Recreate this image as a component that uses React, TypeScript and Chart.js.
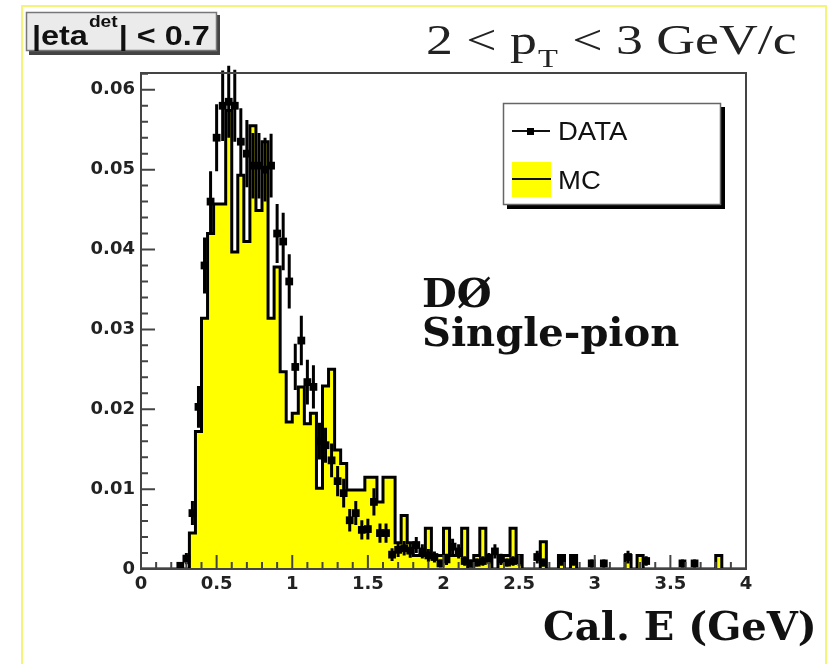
import { useEffect, useRef } from "react";
import { Chart, registerables } from "chart.js";

Chart.register(...registerables);

// ---- data (bin width 0.04 GeV, 100 bins from 0 to 4) ----
const BIN_WIDTH = 0.04;
const X_MIN = 0;
const X_MAX = 4;
const Y_MAX = 0.0621;

const xTickValues = [0, 0.5, 1, 1.5, 2, 2.5, 3, 3.5, 4];
const yTickValues = [0, 0.01, 0.02, 0.03, 0.04, 0.05, 0.06];
const X_MINOR_STEP = 0.1;
const Y_MINOR_STEP = 0.002;

const mcValues = [
  0, 0, 0, 0, 0, 0, 0, 0, 0.0045, 0.0172,
  0.0314, 0.042, 0.0457, 0.0457, 0.0574, 0.0397, 0.0493, 0.041, 0.0555, 0.0449,
  0.0535, 0.0314, 0.0378, 0.0247, 0.0184, 0.0195, 0.0228, 0.0182, 0.0195, 0.0101,
  0.0229, 0.025, 0.0149, 0.0132, 0.0099, 0.0099, 0.0099, 0.0115, 0.0115, 0.0084,
  0.0115, 0.0115, 0.0033, 0.0067, 0.0033, 0.0017, 0.0017, 0.0051, 0.0017, 0.0017,
  0.0051, 0.0017, 0.0017, 0.0051, 0, 0.0017, 0.0051, 0.0017, 0, 0.0017,
  0.0017, 0.0051, 0.0017, 0, 0, 0, 0.0034, 0, 0, 0.0017,
  0, 0.0017, 0, 0, 0, 0, 0, 0, 0, 0,
  0.0017, 0, 0.0017, 0, 0, 0, 0, 0, 0, 0,
  0, 0, 0, 0, 0, 0.0017, 0, 0, 0, 0,
];

const dataValues = [
  0, 0, 0, 0, 0, 0, 0.0004, 0.0013, 0.007, 0.0203,
  0.038, 0.046, 0.054, 0.058, 0.0585, 0.058, 0.0535, 0.052, 0.0505, 0.0505,
  0.05, 0.0505, 0.042, 0.041, 0.036, 0.0253, 0.0286, 0.0234, 0.0228, 0.016,
  0.0155, 0.0136, 0.011, 0.0095, 0.0061, 0.007, 0.0049, 0.005, 0.0084, 0.0045,
  0.0045, 0.0018, 0.0024, 0.0026, 0.0023, 0.003, 0.0022, 0.0017, 0.0015, 0.0007,
  0.0012, 0.0028, 0.0022, 0.001, 0.0007, 0.0008, 0.001, 0.0013, 0.0022, 0.0012,
  0.0008, 0.001, 0.0011, 0, 0, 0.0015, 0.0008, 0, 0, 0.0011,
  0, 0.001, 0, 0, 0.0007, 0, 0.0007, 0, 0, 0,
  0.0015, 0, 0, 0.001, 0, 0, 0, 0, 0, 0.0007,
  0, 0.0007, 0, 0, 0, 0, 0, 0, 0, 0,
];

const dataErrors = [
  0, 0, 0, 0, 0, 0, 0.0004, 0.0007, 0.0015, 0.0026,
  0.0035, 0.0038, 0.0042, 0.0044, 0.0045, 0.0045, 0.0042, 0.0042, 0.0041, 0.0041,
  0.004, 0.004, 0.0037, 0.0036, 0.0034, 0.0029, 0.0031, 0.0028, 0.0027, 0.0023,
  0.0022, 0.0021, 0.0019, 0.0018, 0.0014, 0.0015, 0.0012, 0.0013, 0.0017, 0.0012,
  0.0012, 0.0008, 0.0009, 0.0009, 0.0009, 0.001, 0.0009, 0.0008, 0.0007, 0.0005,
  0.0007, 0.001, 0.0009, 0.0006, 0.0005, 0.0005, 0.0006, 0.0007, 0.0009, 0.0007,
  0.0005, 0.0006, 0.0007, 0, 0, 0.0008, 0.0005, 0, 0, 0.0007,
  0, 0.0006, 0, 0, 0.0005, 0, 0.0005, 0, 0, 0,
  0.0008, 0, 0, 0.0006, 0, 0, 0, 0, 0, 0.0005,
  0, 0.0005, 0, 0, 0, 0, 0, 0, 0, 0,
];

const W = 831;
const H = 664;

function stretchText(
  ctx: CanvasRenderingContext2D,
  text: string,
  x: number,
  y: number,
  font: string,
  sx: number,
  color: string
): number {
  ctx.save();
  ctx.font = font;
  ctx.fillStyle = color;
  ctx.textAlign = "left";
  ctx.textBaseline = "alphabetic";
  ctx.translate(x, y);
  ctx.scale(sx, 1);
  ctx.fillText(text, 0, 0);
  const w = ctx.measureText(text).width * sx;
  ctx.restore();
  return w;
}

export default function App() {
  const ref = useRef<HTMLCanvasElement | null>(null);

  useEffect(() => {
    const canvas = ref.current;
    if (!canvas) return;

    const mcPoints = mcValues.map((v, i) => ({ x: X_MIN + i * BIN_WIDTH, y: v }));
    mcPoints.push({ x: X_MAX, y: 0 });

    const dataPoints = dataValues
      .map((v, i) => ({ x: X_MIN + (i + 0.5) * BIN_WIDTH, y: v, e: dataErrors[i] }))
      .filter((p) => p.y > 0);

    const rootPlugin = {
      id: "rootStyle",
      afterDatasetsDraw(chart: any) {
        const ctx: CanvasRenderingContext2D = chart.ctx;
        const xs = chart.scales.x;
        const ys = chart.scales.y;
        ctx.save();
        ctx.strokeStyle = "#000";
        ctx.lineWidth = 3;
        for (const p of dataPoints) {
          const cx = xs.getPixelForValue(p.x);
          const cy = ys.getPixelForValue(p.y);
          const x0 = xs.getPixelForValue(p.x - BIN_WIDTH / 2);
          const x1 = xs.getPixelForValue(p.x + BIN_WIDTH / 2);
          const yLo = ys.getPixelForValue(Math.max(0, p.y - p.e));
          const yHi = ys.getPixelForValue(p.y + p.e);
          ctx.beginPath();
          ctx.moveTo(cx, yLo);
          ctx.lineTo(cx, yHi);
          ctx.moveTo(x0, cy);
          ctx.lineTo(x1, cy);
          ctx.stroke();
        }
        ctx.restore();
      },
      afterDraw(chart: any) {
        const ctx: CanvasRenderingContext2D = chart.ctx;
        const xs = chart.scales.x;
        const ys = chart.scales.y;
        const { left, right, top, bottom } = chart.chartArea;
        ctx.save();

        // pad border (light yellow)
        ctx.strokeStyle = "#f4f47a";
        ctx.lineWidth = 2;
        ctx.strokeRect(22, 6, 804, 700);

        // frame
        ctx.strokeStyle = "#444";
        ctx.lineWidth = 2;
        ctx.strokeRect(left, top, right - left, bottom - top);

        // x ticks (inside)
        ctx.beginPath();
        const nx = Math.round((X_MAX - X_MIN) / X_MINOR_STEP);
        for (let k = 0; k <= nx; k++) {
          const v = X_MIN + k * X_MINOR_STEP;
          const isMajor = xTickValues.some((t) => Math.abs(t - v) < 1e-6);
          const px = xs.getPixelForValue(v);
          ctx.moveTo(px, bottom);
          ctx.lineTo(px, bottom - (isMajor ? 14 : 7));
        }
        // y ticks (inside)
        const ny = Math.floor(Y_MAX / Y_MINOR_STEP + 1e-6);
        for (let k = 0; k <= ny; k++) {
          const v = k * Y_MINOR_STEP;
          const isMajor = yTickValues.some((t) => Math.abs(t - v) < 1e-7);
          const py = ys.getPixelForValue(v);
          ctx.moveTo(left, py);
          ctx.lineTo(left + (isMajor ? 14 : 7), py);
        }
        ctx.stroke();

        // top-left label box
        ctx.fillStyle = "#444";
        ctx.fillRect(29, 15, 191, 40);
        ctx.fillStyle = "#ebebeb";
        ctx.fillRect(26, 12, 191, 39);
        ctx.strokeStyle = "#777";
        ctx.lineWidth = 1.5;
        ctx.strokeRect(26.5, 12.5, 190, 38);
        let lx = 32;
        lx += stretchText(ctx, "|eta", lx, 45, "bold 27px 'Liberation Sans'", 1.2, "#111");
        lx += 1 + stretchText(ctx, "det", lx + 1, 27, "bold 16px 'Liberation Sans'", 1.2, "#111");
        stretchText(ctx, "| < 0.7", lx + 1, 45, "bold 27px 'Liberation Sans'", 1.2, "#111");

        // title
        let tx = 426;
        const tFont = "43px 'Liberation Serif'";
        tx += stretchText(ctx, "2 < p", tx, 54, tFont, 1.25, "#222");
        tx += 1 + stretchText(ctx, "T", tx + 1, 67, "26px 'Liberation Serif'", 1.25, "#222");
        stretchText(ctx, " < 3 GeV/c", tx + 1, 54, tFont, 1.25, "#222");

        // annotations
        stretchText(ctx, "DØ", 422, 307, "bold 40px 'DejaVu Serif'", 1.0, "#111");
        stretchText(ctx, "Single-pion", 422, 346, "bold 40px 'DejaVu Serif'", 1.0, "#111");
        stretchText(ctx, "Cal. E (GeV)", 543, 640, "bold 40px 'DejaVu Serif'", 1.0, "#111");

        // legend
        ctx.fillStyle = "#000";
        ctx.fillRect(507, 107, 218, 102);
        ctx.fillStyle = "#fff";
        ctx.fillRect(503, 103, 218, 102);
        ctx.strokeStyle = "#666";
        ctx.lineWidth = 1.5;
        ctx.strokeRect(503.5, 103.5, 217, 101);
        // DATA entry
        ctx.strokeStyle = "#111";
        ctx.lineWidth = 2;
        ctx.beginPath();
        ctx.moveTo(512, 131);
        ctx.lineTo(550, 131);
        ctx.stroke();
        ctx.fillStyle = "#000";
        ctx.fillRect(527, 128, 7, 7);
        stretchText(ctx, "DATA", 558, 140, "25px 'Liberation Sans'", 1.1, "#111");
        // MC entry
        ctx.fillStyle = "#ffff00";
        ctx.fillRect(512, 162, 39, 35);
        ctx.strokeStyle = "#111";
        ctx.beginPath();
        ctx.moveTo(512, 179);
        ctx.lineTo(551, 179);
        ctx.stroke();
        stretchText(ctx, "MC", 558, 189, "25px 'Liberation Sans'", 1.1, "#111");

        ctx.restore();
      },
    };

    const tickFont = { family: "'DejaVu Sans'", weight: "bold" as const, size: 18 };

    const chart = new Chart(canvas, {
      type: "scatter",
      data: {
        datasets: [
          {
            label: "DATA",
            data: dataPoints,
            showLine: false,
            pointStyle: "rect",
            pointRadius: 5.5,
            pointBackgroundColor: "#000",
            pointBorderColor: "#000",
            pointBorderWidth: 0,
            order: 0,
          } as any,
          {
            label: "MC",
            type: "line",
            data: mcPoints,
            stepped: "before",
            fill: "origin",
            backgroundColor: "#ffff00",
            borderColor: "#000",
            borderWidth: 3,
            pointRadius: 0,
            order: 1,
          } as any,
        ],
      },
      options: {
        responsive: false,
        animation: false,
        devicePixelRatio: 1,
        events: [],
        layout: { padding: { left: 0, right: 85, top: 73, bottom: 0 } },
        plugins: {
          legend: { display: false },
          tooltip: { enabled: false },
        },
        scales: {
          x: {
            type: "linear",
            min: X_MIN,
            max: X_MAX,
            afterBuildTicks: (s: any) => {
              s.ticks = xTickValues.map((v) => ({ value: v }));
            },
            afterFit: (s: any) => {
              s.height = 95;
            },
            grid: { display: false, drawTicks: false },
            border: { display: false },
            ticks: {
              padding: 5,
              color: "#222",
              font: tickFont,
              maxRotation: 0,
              autoSkip: false,
              callback: (v: any) => String(v),
            },
          },
          y: {
            type: "linear",
            min: 0,
            max: Y_MAX,
            afterBuildTicks: (s: any) => {
              s.ticks = yTickValues.map((v) => ({ value: v }));
            },
            afterFit: (s: any) => {
              s.width = 141;
            },
            grid: { display: false, drawTicks: false },
            border: { display: false },
            ticks: {
              padding: 6,
              color: "#222",
              font: tickFont,
              callback: (v: any) => (Number(v) === 0 ? "0" : Number(v).toFixed(2)),
            },
          },
        },
      },
      plugins: [rootPlugin],
    });

    return () => {
      chart.destroy();
    };
  }, []);

  return (
    <div style={{ position: "absolute", left: 0, top: 0, width: W, height: H, background: "#fff" }}>
      <canvas ref={ref} width={W} height={H} style={{ width: W, height: H, display: "block" }} />
    </div>
  );
}
